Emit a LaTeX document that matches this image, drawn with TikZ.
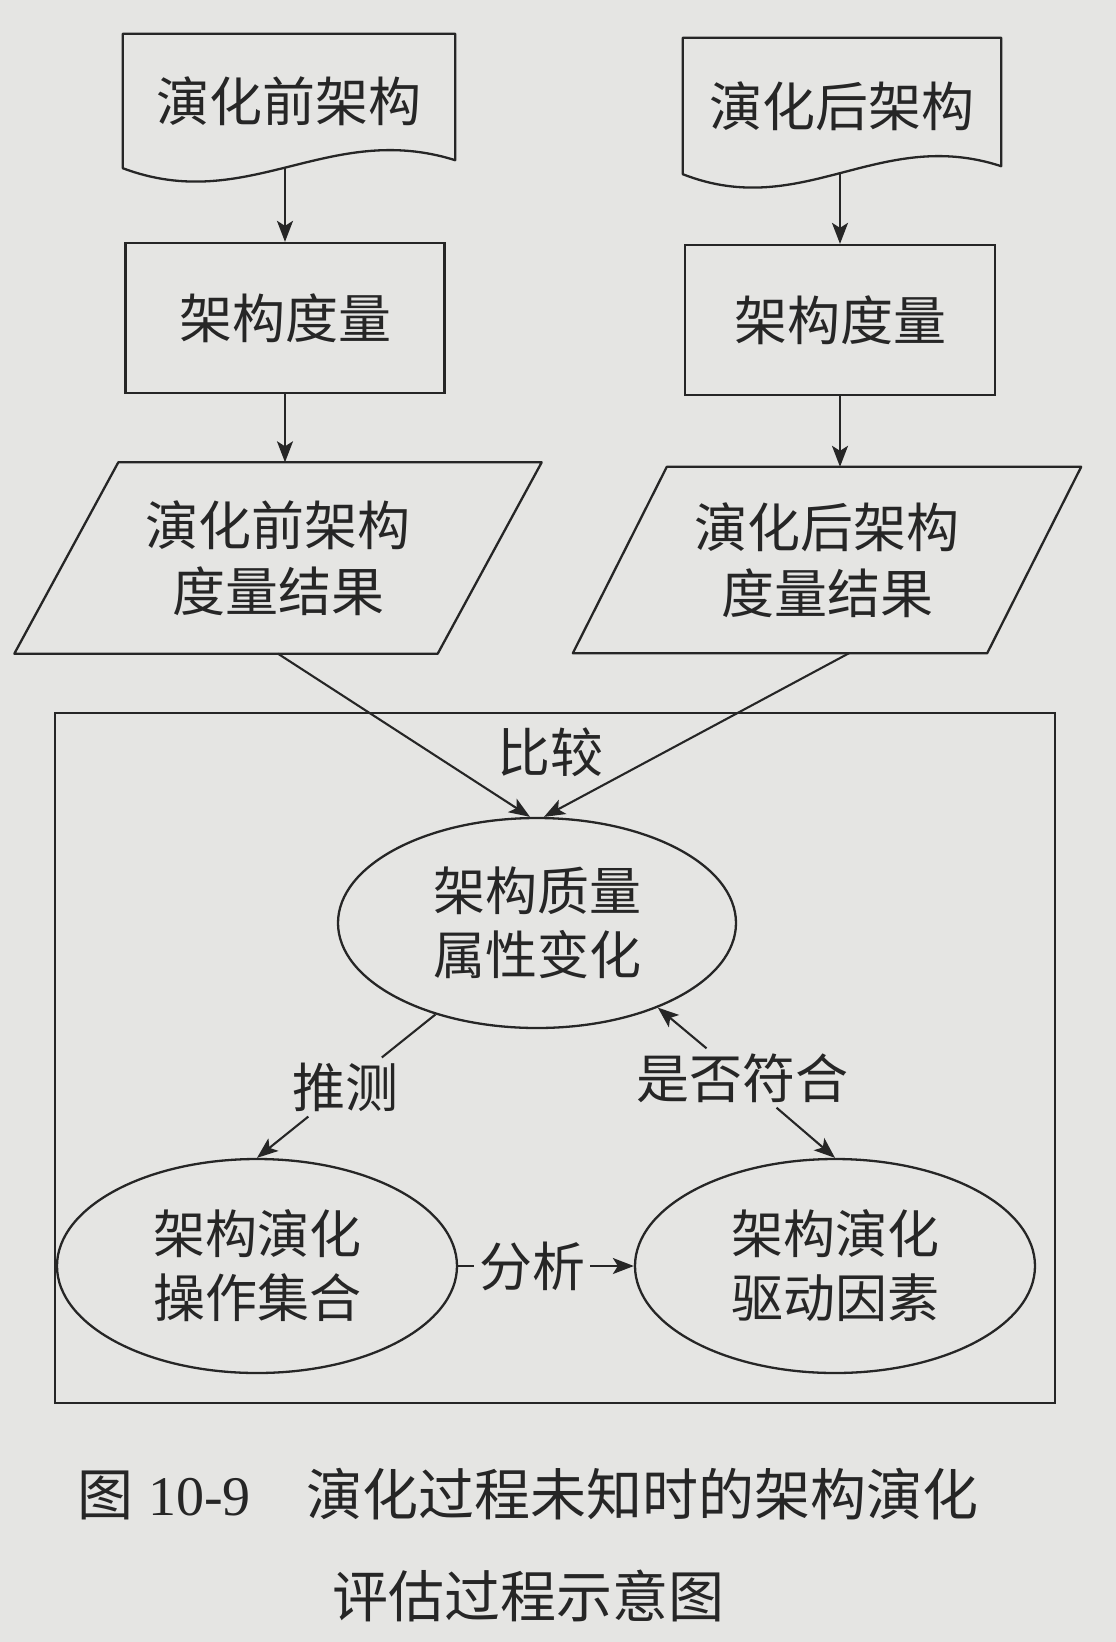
\documentclass[tikz,border=0pt]{standalone}
\usepackage{fontspec}
\setmainfont{Noto Sans CJK SC}
\newfontfamily\latinserif{Liberation Serif}
\usetikzlibrary{shapes.geometric,arrows.meta,calc}
\definecolor{paper}{RGB}{229,229,227}
\definecolor{ink}{RGB}{38,38,38}
\begin{document}
\begin{tikzpicture}[x=1pt,y=-1pt,
  every node/.style={font=\fontsize{53}{66}\selectfont, text=ink, inner sep=0pt},
  shapeline/.style={draw=ink, line width=2.3pt, line join=round},
  arr/.style={draw=ink, line width=2.1pt, -{Stealth[length=21pt,width=16pt,inset=5pt]}},
  conn/.style={draw=ink, line width=2.1pt},
  txt/.style={align=center},
  oval/.style={ellipse, draw=ink, line width=2.3pt, align=center, minimum width=400pt, minimum height=214pt, inner sep=0pt, font=\fontsize{52}{64}\selectfont},
  procbox/.style={rectangle, draw=ink, line width=2.3pt, minimum height=150pt},
  lbl/.style={inner sep=5pt},
  capfont/.style={font=\fontsize{56}{60}\selectfont}
]
\fill[paper] (0,0) rectangle (1116,1642);
\useasboundingbox (0,0) rectangle (1116,1642);

% documents
\node[minimum width=332pt, minimum height=134pt] (d1) at (289,101) {演化前架构};
\draw[shapeline] (d1.north west) -- (d1.north east) -- ([yshift=8pt]d1.south east)
  .. controls +(-127,-40) and +(125,47) .. (d1.south west) -- cycle;
\node[minimum width=318pt, minimum height=136pt] (d2) at (842,106) {演化后架构};
\draw[shapeline] (d2.north west) -- (d2.north east) -- ([yshift=8pt]d2.south east)
  .. controls +(-122,-40) and +(120,47) .. (d2.south west) -- cycle;

% measurement boxes
\node[procbox, minimum width=319pt] (m1) at (285,318) {架构度量};
\node[procbox, minimum width=310pt] (m2) at (840,320) {架构度量};

% results (parallelograms)
\node[txt, minimum width=423pt, minimum height=191pt] (p1) at (278,558) {演化前架构\\度量结果};
\draw[shapeline] ([xshift=52pt]p1.north west) -- ([xshift=52pt]p1.north east)
  -- ([xshift=-52pt]p1.south east) -- ([xshift=-52pt]p1.south west) -- cycle;
\node[txt, minimum width=414pt, minimum height=186pt] (p2) at (827,560) {演化后架构\\度量结果};
\draw[shapeline] ([xshift=47pt]p2.north west) -- ([xshift=47pt]p2.north east)
  -- ([xshift=-47pt]p2.south east) -- ([xshift=-47pt]p2.south west) -- cycle;

\draw[arr] (m1.north |- d1.south) -- (m1.north);
\draw[arr] (m1.south) -- (m1.south |- p1.north);
\draw[arr] (m2.north |- d2.south) -- (m2.north);
\draw[arr] (m2.south) -- (m2.south |- p2.north);

% frame
\node[draw=ink, line width=2.3pt, minimum width=1000pt, minimum height=690pt] (frame) at (555,1058) {};

% ellipses
\node[oval, minimum width=398pt, minimum height=210pt] (q) at (537,923) {架构质量\\属性变化};
\node[oval] (ops) at (257,1266) {架构演化\\操作集合};
\node[oval] (drv) at (835,1266) {架构演化\\驱动因素};

\draw[arr] (p1.south) -- ([xshift=-7pt]q.north);
\draw[arr] ([xshift=22pt]p2.south) -- ([xshift=7pt]q.north);
\node (cmp) at (550,752) {比较};

\node[lbl] (l1) at (345,1087) {推测};
\draw[conn] (q.-138) -- (l1);
\draw[arr] (l1) -- (ops.north);

\node[lbl] (l2) at (742,1078) {是否符合};
\draw[arr] (l2) -- (q.-35);
\draw[arr] (l2) -- (drv.north);

\node[lbl] (l3) at (532,1266) {分析};
\draw[conn] (ops.east) -- (l3);
\draw[arr] (l3) -- (drv.west);

% caption
\node[capfont, anchor=west] (cap1) at (77,1494) {图\hspace{15pt}{\latinserif 10-9}\hspace{56pt}演化过程未知时的架构演化};
\node[capfont] (cap2) at (528,1596) {评估过程示意图};
\end{tikzpicture}
\end{document}
